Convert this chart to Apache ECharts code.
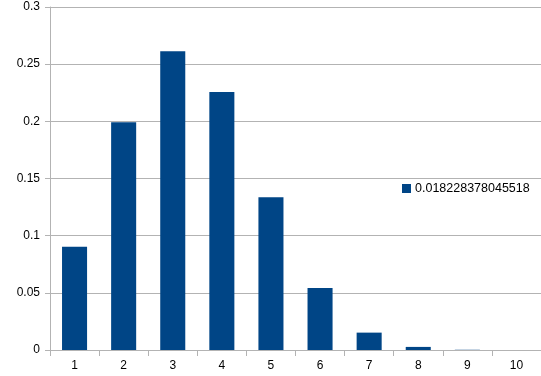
<!DOCTYPE html>
<html>
<head>
<meta charset="utf-8">
<script src="https://cdn.jsdelivr.net/npm/echarts@6/dist/echarts.min.js"></script>
<style>
  html, body { margin: 0; padding: 0; background: #fff; }
  #chart { width: 541px; height: 376px; }
</style>
</head>
<body>
<div id="chart"></div>
<script>
  // data
  var categories = ['1', '2', '3', '4', '5', '6', '7', '8', '9', '10']
  var seriesName = '0.018228378045518'
  var values = [0.0902, 0.1993, 0.2614, 0.2257, 0.1337, 0.0543, 0.0152, 0.0027, 0.0002, 0.00002]
  var yTicks = [0, 0.05, 0.1, 0.15, 0.2, 0.25, 0.3]

  var chart = echarts.init(document.getElementById('chart'))
  chart.setOption({
    animation: false,
    textStyle: { fontFamily: 'Liberation Sans', fontSize: 12, color: '#000' },
    grid: { left: 50, right: 0, top: 7, bottom: 26 },
    legend: {
      data: [seriesName],
      left: 397,
      top: 177,
      itemWidth: 9,
      itemHeight: 9,
      itemGap: 4,
      icon: 'rect',
      textStyle: { fontFamily: 'Liberation Sans', fontSize: 12.5, color: '#000', padding: [0, 0, 0, -1] }
    },
    xAxis: {
      type: 'category',
      data: categories,
      axisLine: { lineStyle: { color: '#b3b3b3' } },
      axisTick: { show: true, length: 6, lineStyle: { color: '#b3b3b3' } },
      axisLabel: { color: '#000', fontSize: 12, margin: 10 }
    },
    yAxis: {
      type: 'value',
      min: yTicks[0],
      max: yTicks[yTicks.length - 1],
      interval: 0.05,
      axisLine: { show: true, lineStyle: { color: '#b3b3b3' } },
      axisTick: { show: true, length: 5, lineStyle: { color: '#b3b3b3' } },
      splitLine: { lineStyle: { color: '#b3b3b3' } },
      axisLabel: { color: '#000', fontSize: 12, margin: 10 }
    },
    series: [
      {
        name: seriesName,
        type: 'bar',
        data: values,
        barWidth: '51%',
        itemStyle: { color: '#004586' }
      }
    ]
  })
</script>
</body>
</html>
